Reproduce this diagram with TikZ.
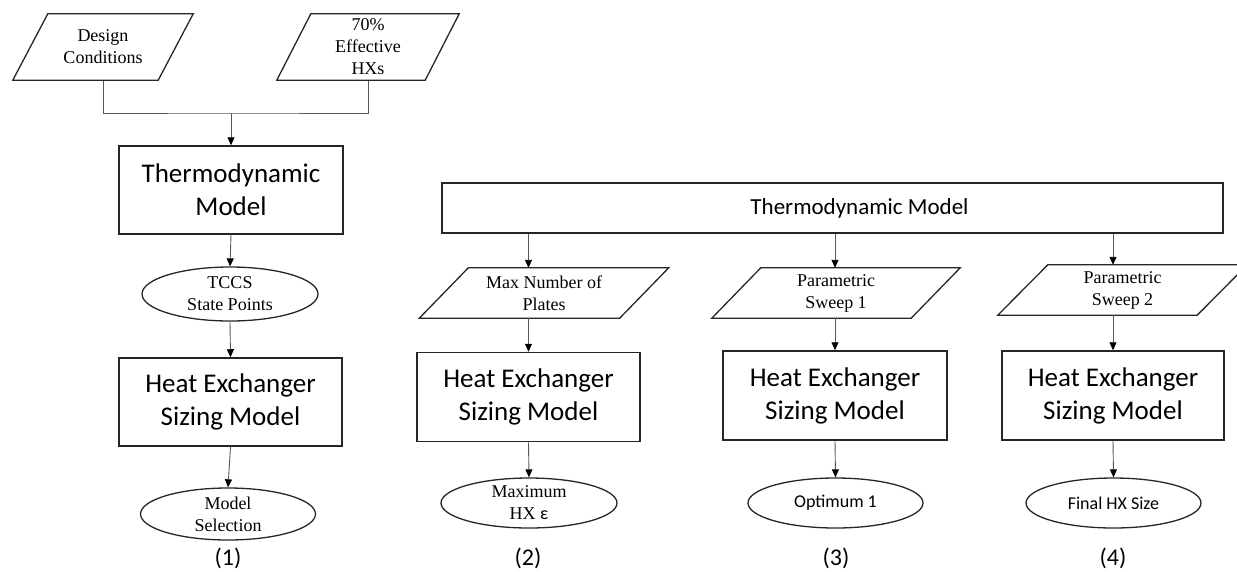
\documentclass[tikz,border=0pt]{standalone}
\usepackage{fontspec}
\setmainfont{Carlito}
\newfontfamily\tnr{Liberation Serif}
\usetikzlibrary{arrows.meta,shapes.geometric}

\begin{document}
\begin{tikzpicture}[x=1pt,y=-1pt,
  every node/.style={align=center,inner sep=0pt},
  model/.style={draw=black!85,line width=1.5pt,font=\fontsize{27}{33}\selectfont},
  datain/.style={minimum width=200pt,minimum height=50pt,
    font=\tnr\fontsize{18}{22}\selectfont},
  lean/.style={draw=black!85,line width=1.3pt,line join=miter},
  result/.style={draw=black!85,line width=1.3pt,ellipse,minimum width=175pt,
    minimum height=51pt,font=\tnr\fontsize{18}{22}\selectfont},
  wire/.style={draw=black!65,line width=0.9pt},
  flow/.style={wire,-{Triangle[length=8pt,width=7pt,color=black]}},
  tag/.style={font=\fontsize{24}{28}\selectfont}]
  \useasboundingbox (0,0) rectangle (1237,571);

  % (1) inputs and first pass
  \node[datain,minimum width=145pt,minimum height=66pt] (design) at (103,47)
    {Design\\Conditions};
  \node[datain,minimum width=148pt,minimum height=66pt] (eff) at (368,47)
    {70\%\\Effective\\HXs};
  \coordinate (join) at (231,113);

  \node[model,minimum width=224pt,minimum height=88pt] (thermoA) at (231,190)
    {Thermodynamic\\Model};
  \node[result,minimum width=176pt,minimum height=54pt] (tccs) at (230,294)
    {TCCS\\State Points};
  \node[model,minimum width=223pt,minimum height=88pt] (hxA) at (230.5,402)
    {Heat Exchanger\\Sizing Model};
  \node[result,minimum height=52pt] (select) at (228,514)
    {Model\\Selection};
  \node[tag] (tagA) at (228,558) {(1)};

  \draw[wire] (design.south) |- (join) -| (eff.south);
  \draw[flow] (join) -- (thermoA.north);
  \draw[flow] (thermoA.south) -- (tccs.north);
  \draw[flow] (tccs.south) -- (hxA.north);
  \draw[flow] (hxA.south) -- (select.north);

  % (2)-(4) share one thermodynamic model
  \node[model,minimum width=781pt,minimum height=50pt,
    label={[font=\fontsize{23}{27}\selectfont,xshift=27pt]center:Thermodynamic Model}]
    (thermo) at (832.5,208) {};

  \node[datain] (plates) at (544,293) {Max Number of\\Plates};
  \node[model,minimum width=223pt,minimum height=89pt] (hxB) at (528.5,397)
    {Heat Exchanger\\Sizing Model};
  \node[result,minimum width=176pt,minimum height=50pt] (maxeff) at (529,503)
    {Maximum\\HX {\rmfamily ε}};
  \node[tag] (tagB) at (528,558) {(2)};

  \node[datain,minimum width=199pt] (sweepA) at (836,293) {Parametric\\Sweep 1};
  \node[model,minimum width=224pt,minimum height=89pt] (hxC) at (835,395.5)
    {Heat Exchanger\\Sizing Model};
  \node[result,minimum height=50pt,font=\fontsize{18}{22}\selectfont] (opt) at (835.5,503)
    {Optimum 1};
  \node[tag] (tagC) at (836,558) {(3)};

  \node[datain,minimum width=199pt] (sweepB) at (1122.5,290) {Parametric\\Sweep 2};
  \node[model,minimum width=222pt,minimum height=89pt] (hxD) at (1113,395.5)
    {Heat Exchanger\\Sizing Model};
  \node[result,minimum height=50pt,font=\fontsize{18}{22}\selectfont] (final) at (1113.5,503)
    {Final HX Size};
  \node[tag] (tagD) at (1113,558) {(4)};

  % slanted outlines of the input boxes
  \foreach \n/\s in {design/17.5pt,eff/17pt,plates/24.5pt,sweepA/24.5pt,sweepB/25pt}
    \draw[lean] ([xshift=-\s]\n.south west) -- ([xshift=\s]\n.north west)
      -- ([xshift=\s]\n.north east) -- ([xshift=-\s]\n.south east) -- cycle;

  \draw[flow] (thermo.south -| hxB.north) -- (plates.north -| hxB.north);
  \draw[flow] (plates.south -| hxB.north) -- (hxB.north);
  \draw[flow] (hxB.south) -- (maxeff.north);

  \draw[flow] (thermo.south -| hxC.north) -- (sweepA.north -| hxC.north);
  \draw[flow] (sweepA.south -| hxC.north) -- (hxC.north);
  \draw[flow] (hxC.south) -- (opt.north);

  \draw[flow] (thermo.south -| hxD.north) -- (sweepB.north -| hxD.north);
  \draw[flow] (sweepB.south -| hxD.north) -- (hxD.north);
  \draw[flow] (hxD.south) -- (final.north);
\end{tikzpicture}
\end{document}
